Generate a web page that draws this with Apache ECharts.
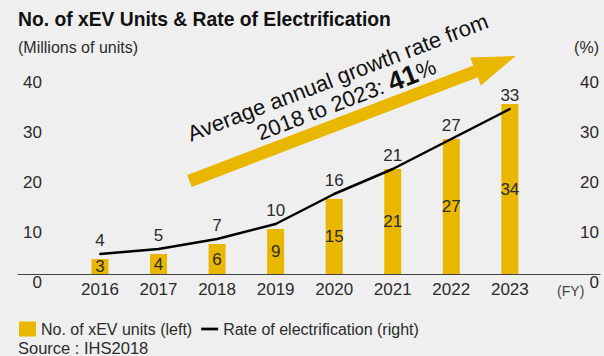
<!DOCTYPE html>
<html>
<head>
<meta charset="utf-8">
<script src="https://cdn.jsdelivr.net/npm/echarts@6/dist/echarts.min.js"></script>
<style>
html,body{margin:0;padding:0;background:#efefef;}
#c{width:604px;height:356px;}
</style>
</head>
<body>
<div id="c"></div>
<script>
const years = [2016, 2017, 2018, 2019, 2020, 2021, 2022, 2023];
const xevUnits = [3, 4, 6, 9, 15, 21, 27, 34];
const electrificationRate = [4, 5, 7, 10, 16, 21, 27, 33];
const yMin = 0, yMax = 40, yStep = 10;
const fyLabelValue = 2024.04;

const FONT = '"Liberation Sans", Arial, Helvetica, sans-serif';
const YELLOW = '#E9B600';
const TXT = '#2b2b2b';

// arrow annotation geometry
function arrowPoints() {
  const sx = 189.5, sy = 181, tx = 515.7, ty = 56;
  const dx = tx - sx, dy = ty - sy, L = Math.hypot(dx, dy);
  const ux = dx / L, uy = dy / L, px = -uy, py = ux;
  const hw = 6.3, hh = 15, hl = 43;
  const nx = tx - ux * hl, ny = ty - uy * hl;
  return [
    [sx + px * hw, sy + py * hw],
    [nx + px * hw, ny + py * hw],
    [nx + px * hh, ny + py * hh],
    [tx, ty],
    [nx - px * hh, ny - py * hh],
    [nx - px * hw, ny - py * hw],
    [sx - px * hw, sy - py * hw]
  ];
}

const chart = echarts.init(document.getElementById('c'), null, {renderer: 'svg'});
chart.setOption({
  backgroundColor: '#efefef',
  animation: false,
  textStyle: {fontFamily: FONT},
  grid: {left: 18, right: 4, top: 74, bottom: 82, containLabel: false},
  xAxis: {
    type: 'value',
    min: 2014.6,
    max: 2024.54,
    splitLine: {show: false},
    axisTick: {show: false},
    axisLine: {show: true, lineStyle: {color: '#444', width: 1}},
    axisLabel: {
      customValues: years.concat([fyLabelValue]),
      margin: 7,
      color: TXT,
      fontSize: 17,
      fontFamily: FONT,
      formatter: function (v) { return v === fyLabelValue ? '{fy|(FY)}' : String(v); },
      rich: {fy: {fontSize: 14, color: '#444', fontFamily: FONT, padding: [3, 0, 0, 0]}}
    }
  },
  yAxis: [{
    type: 'value', min: yMin, max: yMax, interval: yStep,
    position: 'left',
    splitLine: {show: false}, axisLine: {show: false}, axisTick: {show: false},
    axisLabel: {inside: true, align: 'right', margin: 24, verticalAlign: 'top',
      color: TXT, fontSize: 17, fontFamily: FONT}
  }, {
    type: 'value', min: yMin, max: yMax, interval: yStep,
    position: 'right',
    splitLine: {show: false}, axisLine: {show: false}, axisTick: {show: false},
    axisLabel: {inside: true, align: 'right', margin: 1, verticalAlign: 'top',
      color: TXT, fontSize: 17, fontFamily: FONT}
  }],
  legend: {
    left: 14, top: 316,
    itemWidth: 17, itemHeight: 15, itemGap: 9,
    textStyle: {fontSize: 16, color: TXT, fontFamily: FONT},
    data: [
      {name: 'No. of xEV units (left)', icon: 'rect'},
      {name: 'Rate of electrification (right)', icon: 'path://M0,0H20V3.2H0Z'}
    ]
  },
  series: [{
    name: 'No. of xEV units (left)',
    type: 'bar',
    yAxisIndex: 0,
    barWidth: 17,
    itemStyle: {color: YELLOW},
    label: {show: true, position: 'inside', color: TXT, fontSize: 17, fontFamily: FONT},
    data: years.map((y, i) => [y, xevUnits[i]]),
    z: 2
  }, {
    name: 'Rate of electrification (right)',
    type: 'line',
    yAxisIndex: 1,
    symbol: 'circle',
    symbolSize: 2,
    showSymbol: true,
    lineStyle: {color: '#000', width: 2.5},
    itemStyle: {color: '#000'},
    label: {show: true, position: 'top', distance: 4, color: TXT, fontSize: 17, fontFamily: FONT},
    data: years.map((y, i) => [y, electrificationRate[i]]),
    z: 3
  }],
  graphic: [
    {type: 'text', left: 18, top: 10, style: {text: 'No. of xEV Units & Rate of Electrification', fontSize: 19.3, fontWeight: 'bold', fill: '#111', fontFamily: FONT}},
    {type: 'text', left: 18, top: 39, style: {text: '(Millions of units)', fontSize: 16, fill: TXT, fontFamily: FONT}},
    {type: 'text', right: 5, top: 39, style: {text: '(%)', fontSize: 16, fill: TXT, fontFamily: FONT}},
    {type: 'text', left: 18, top: 339, style: {text: 'Source : IHS2018', fontSize: 16.5, fill: TXT, fontFamily: FONT}},
    {type: 'polygon', shape: {points: arrowPoints()}, style: {fill: YELLOW}, z: 1},
    {type: 'text', x: 342, y: 88.6, rotation: 21 * Math.PI / 180, z: 5,
      style: {
        text: 'Average annual growth rate from\n2018 to 2023: {b|41}{p|%}',
        fontSize: 22, fill: '#111', fontFamily: FONT,
        align: 'center', verticalAlign: 'middle', lineHeight: 24,
        rich: {
          b: {fontSize: 27, fontWeight: 'bold', fill: '#111', fontFamily: FONT, lineHeight: 24},
          p: {fontSize: 22, fill: '#111', fontFamily: FONT, lineHeight: 24}
        }
      }}
  ]
});
</script>
</body>
</html>
